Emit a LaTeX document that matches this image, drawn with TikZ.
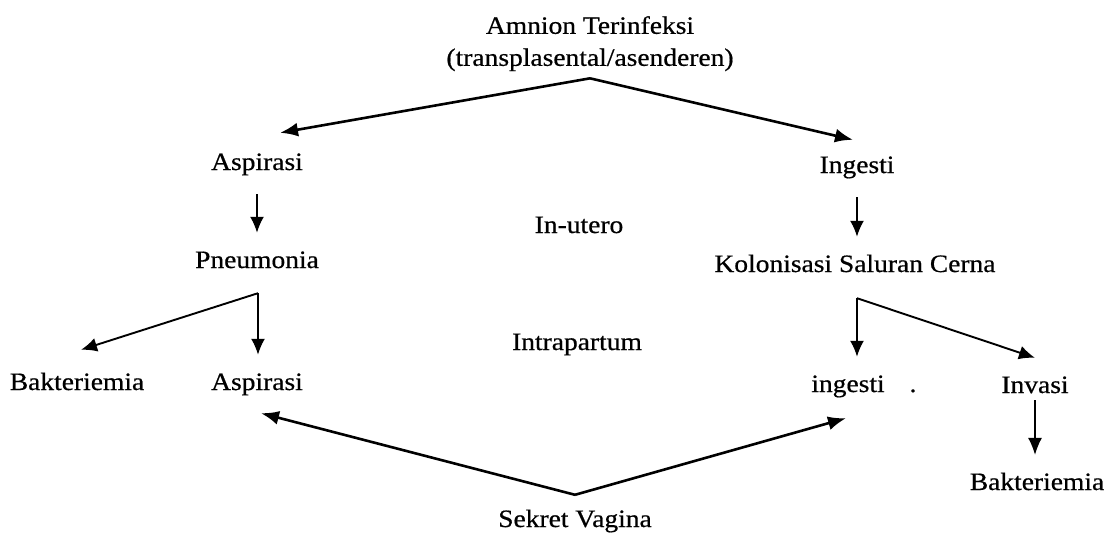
\documentclass[tikz,border=0pt]{standalone}
\usepackage{fontspec}
\setmainfont{Liberation Serif}[FakeStretch=1.1,FakeBold=0.6]
\usepackage{tikz}
\usetikzlibrary{positioning,arrows.meta,calc}

\begin{document}
\begin{tikzpicture}[x=1pt, y=-1pt,
    lbl/.style={anchor=base, inner xsep=0pt, inner ysep=19pt, text height=16pt, text depth=5pt, font=\fontsize{25}{32}\selectfont},
    fat/.style={line width=2.6pt, -{Latex[length=18pt,width=14pt]}},
    mid/.style={line width=1.9pt, -{Latex[length=16pt,width=14pt]}},
    slim/.style={line width=1.2pt, -{Latex[length=17pt,width=14pt]}}]
    \useasboundingbox (0,0) rectangle (1106,538);

    % labels
    \node[anchor=north, inner sep=0pt, align=center, font=\fontsize{25}{32}\selectfont] (amnion) at (590,16) {Amnion Terinfeksi\\(transplasental/asenderen)};
    \node[lbl] (asp1) at (257,170) {Aspirasi};
    \node[lbl] (ing1) at (857,173) {Ingesti};
    \node[lbl] (utero) at (579,233) {In-utero};
    \node[lbl] (pneu) at (257,268) {Pneumonia};
    \node[lbl] (kol) at (855,272) {Kolonisasi Saluran Cerna};
    \node[lbl] (intra) at (577,350) {Intrapartum};
    \node[lbl] (bak1) at (77,390) {Bakteriemia};
    \node[lbl] (asp2) at (257,390) {Aspirasi};
    \node[lbl] (ing2) at (848,392) {ingesti};
    \node[lbl] (dot) at (913,392) {.};
    \node[lbl] (inv) at (1035,393) {Invasi};
    \node[lbl] (bak2) at (1037,490) {Bakteriemia};
    \node[lbl] (sekret) at (575,527) {Sekret Vagina};

    % branch points
    \coordinate (apex) at ([yshift=-7pt]amnion.south);
    \coordinate (pfork) at ([xshift=1pt,yshift=-1pt]pneu.south);
    \coordinate (kfork) at ([xshift=2pt,yshift=-2pt]kol.south);
    \coordinate (vapex) at ([yshift=-3pt]sekret.north);

    % in-utero
    \draw[fat] (apex) -- ([xshift=23pt,yshift=2pt]asp1.north);
    \draw[fat] (apex) -- ([xshift=-4pt,yshift=-2pt]ing1.north);
    \draw[mid] (asp1.south) -- (asp1.south |- pneu.north);
    \draw[mid] (ing1.south) -- (ing1.south |- kol.north);

    % intrapartum
    \draw[mid] (pfork) -- ([xshift=4pt,yshift=5pt]bak1.north);
    \draw[mid] (pfork) -- (pfork |- asp2.north);
    \draw[mid] (kfork) -- (kfork |- ing2.north);
    \draw[mid] (kfork) -- (inv.north);
    \draw[slim] ([yshift=17pt]inv.south) -- (inv.south |- bak2.north);

    % vaginal secretion
    \draw[fat] (vapex) -- ([xshift=4pt,yshift=1pt]asp2.south);
    \draw[fat] (vapex) -- ([xshift=-2pt,yshift=-2pt]ing2.south);
\end{tikzpicture}
\end{document}
